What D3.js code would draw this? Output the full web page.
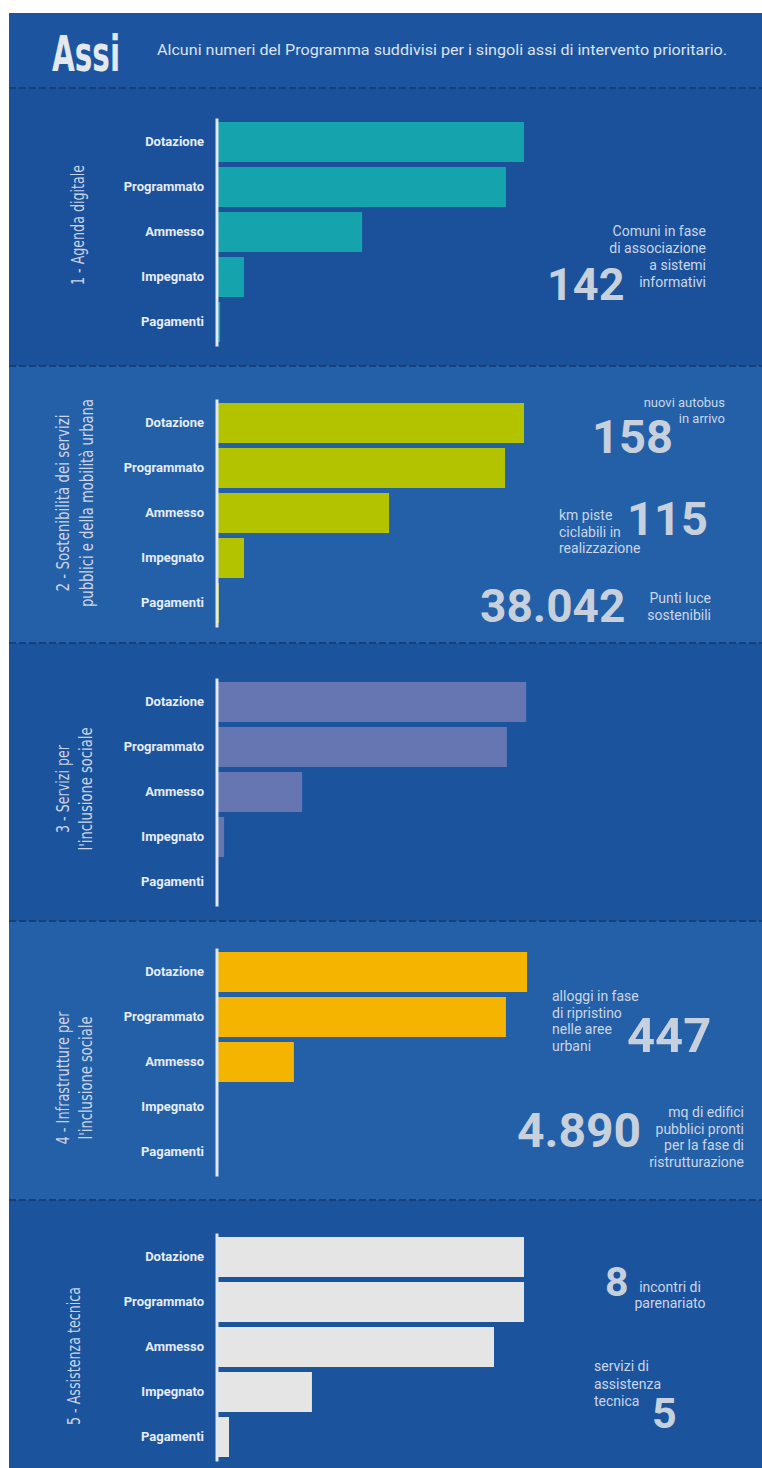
<!DOCTYPE html>
<html>
<head>
<meta charset="utf-8">
<script src="https://cdn.jsdelivr.net/npm/d3@7"></script>
<style>
  html, body { margin: 0; padding: 0; background: #fff; }
  svg { display: block; }
</style>
</head>
<body>
<div id="chart"></div>
<script>
// Assi del Programma: cinque barre orizzontali per asse + numeri chiave a destra

// ── dati ──
const CATEGORIES = ["Dotazione", "Programmato", "Ammesso", "Impegnato", "Pagamenti"];
// valori, in % della dotazione
const VALUES_AX1 = [100, 94.1, 47.1, 8.5, 0.7];
const VALUES_AX2 = [100, 93.8, 55.9, 8.5, 0.3];
const VALUES_AX3 = [100.7, 94.4, 27.5, 2.0, 0];
const VALUES_AX4 = [101, 94.1, 24.8, 0, 0];
const VALUES_AX5 = [100, 100, 90.2, 30.7, 3.6];
const AXIS_VALUES = [VALUES_AX1, VALUES_AX2, VALUES_AX3, VALUES_AX4, VALUES_AX5];

const AXIS_TITLES = [
  ["1 - Agenda digitale"],
  ["2 - Sostenibilità dei servizi", "pubblici e della mobilità urbana"],
  ["3 - Servizi per", "l'inclusione sociale"],
  ["4 - Infrastrutture per", "l'inclusione sociale"],
  ["5 - Assistenza tecnica"],
];
const BAR_COLORS = ["#15a4ae", "#b4c300", "#6676b3", "#f4b400", "#e5e5e5"];

const STAT_NUMBERS = ["142", "158", "115", "38.042", "447", "4.890", "8", "5"];
const STAT_CAPTIONS = [
  ["Comuni in fase", "di associazione", "a sistemi", "informativi"],
  ["nuovi autobus", "in arrivo"],
  ["km piste", "ciclabili in", "realizzazione"],
  ["Punti luce", "sostenibili"],
  ["alloggi in fase", "di ripristino", "nelle aree", "urbani"],
  ["mq di edifici", "pubblici pronti", "per la fase di", "ristrutturazione"],
  ["incontri di", "parenariato"],
  ["servizi di", "assistenza", "tecnica"],
];

const TITLE = "Assi";
const SUBTITLE = "Alcuni numeri del Programma suddivisi per i singoli assi di intervento prioritario.";

// ── layout ──
const W = 762, H = 1468;
const PX0 = 9, PY0 = 13;
const BOUNDS = [PY0, 88, 366, 643, 921, 1200, H];
const BG = ["#1c54a0", "#1b519b", "#2460a7", "#1c539d", "#2460a7", "#1c539d"];
const BAR_TOP = [122, 403, 682, 952, 1237];
const AXIS_X = 216.5, BAR_X0 = 218;
// titoli ruotati: baseline x per riga, centro verticale, lunghezze
const TITLE_POS = [
  { xs: [84], cy: 225, len: [120] },
  { xs: [69, 93], cy: 503, len: [177, 208] },
  { xs: [69, 92], cy: 789, len: [88, 123] },
  { xs: [69, 92], cy: 1078, len: [133, 123] },
  { xs: [80], cy: 1356, len: [138] },
];
// posizione numeri / didascalie
const STAT_POS = [
  { nx: 547, ny: 300, ns: 45, cx: 706, cy: 236, ca: "end", lh: 17 },
  { nx: 592, ny: 453, ns: 47, cx: 725, cy: 407, ca: "end", lh: 16, cs: 13 },
  { nx: 627, ny: 535, ns: 47, cx: 559, cy: 520, ca: "start", lh: 16.5 },
  { nx: 480, ny: 622, ns: 46, cx: 711, cy: 603, ca: "end", lh: 17 },
  { nx: 627, ny: 1052, ns: 49, cx: 552, cy: 1001, ca: "start", lh: 16.5 },
  { nx: 517, ny: 1147, ns: 48, cx: 744, cy: 1117, ca: "end", lh: 16.7 },
  { nx: 605, ny: 1296, ns: 41, cx: 670, cy: 1292, ca: "middle", lh: 16 },
  { nx: 652, ny: 1428, ns: 43, cx: 594, cy: 1371, ca: "start", lh: 17.5 },
];

const COND = "'Liberation Sans Narrow', 'DejaVu Sans Condensed', 'Roboto', sans-serif";
const SANS = "Roboto, 'Noto Sans', sans-serif";

const svg = d3.select("#chart").append("svg")
  .attr("width", W).attr("height", H)
  .attr("viewBox", `0 0 ${W} ${H}`);

// fondi sezioni
svg.selectAll("rect.bg").data(BG).join("rect")
  .attr("class", "bg")
  .attr("x", PX0).attr("y", (d, i) => BOUNDS[i])
  .attr("width", W - PX0).attr("height", (d, i) => BOUNDS[i + 1] - BOUNDS[i])
  .attr("fill", d => d);

// separatori tratteggiati
svg.selectAll("line.sep").data(BOUNDS.slice(1, -1)).join("line")
  .attr("class", "sep")
  .attr("x1", PX0).attr("x2", W).attr("y1", d => d).attr("y2", d => d)
  .attr("stroke", "#163f7b").attr("stroke-width", 2)
  .attr("stroke-dasharray", "7 3");

// testata
svg.append("text")
  .attr("x", 52).attr("y", 71)
  .attr("textLength", 68).attr("lengthAdjust", "spacingAndGlyphs")
  .attr("style", `font:700 50px ${COND};fill:#e3e8ef`)
  .text(TITLE);
svg.append("text")
  .attr("x", 157).attr("y", 55)
  .attr("textLength", 570).attr("lengthAdjust", "spacingAndGlyphs")
  .attr("style", `font:400 14px ${SANS};fill:#dbe3ee`)
  .text(SUBTITLE);

const x = d3.scaleLinear().domain([0, 100]).range([BAR_X0, 524]);

AXIS_VALUES.forEach((vals, s) => {
  const top = BAR_TOP[s];
  const y = d3.scaleBand()
    .domain(CATEGORIES)
    .range([top - 4, top + 224])
    .paddingInner(1 / 9)
    .paddingOuter(4 / 45);
  const g = svg.append("g");

  g.selectAll("rect").data(vals).join("rect")
    .attr("x", x(0))
    .attr("y", (d, i) => y(CATEGORIES[i]))
    .attr("width", d => Math.max(0, x(d) - x(0)))
    .attr("height", y.bandwidth())
    .attr("fill", BAR_COLORS[s]);

  const ax = g.append("g")
    .attr("transform", `translate(${AXIS_X},0)`)
    .call(d3.axisLeft(y).tickSize(0).tickSizeOuter(0).tickPadding(12.5));
  ax.select(".domain").attr("stroke", "#dfe8f3").attr("stroke-width", 3);
  ax.selectAll("text")
    .attr("style", `font:700 13px ${SANS};fill:#e6ecf5`);

  // titolo asse ruotato
  const tp = TITLE_POS[s];
  AXIS_TITLES[s].forEach((line, k) => {
    svg.append("text")
      .attr("transform", `translate(${tp.xs[k]},${tp.cy}) rotate(-90)`)
      .attr("text-anchor", "middle")
      .attr("textLength", tp.len[k]).attr("lengthAdjust", "spacingAndGlyphs")
      .attr("style", `font:400 17px ${COND};fill:#c9d4e6`)
      .text(line);
  });
});

// numeri chiave
STAT_NUMBERS.forEach((num, i) => {
  const p = STAT_POS[i];
  svg.append("text")
    .attr("x", p.nx).attr("y", p.ny)
    .attr("style", `font:700 ${p.ns}px ${SANS};fill:#c7d0dd`)
    .text(num);
  const cap = svg.append("text")
    .attr("text-anchor", p.ca)
    .attr("style", `font:400 ${p.cs || 14}px ${SANS};fill:#cad6e8`);
  STAT_CAPTIONS[i].forEach((line, k) => {
    cap.append("tspan").attr("x", p.cx).attr("y", p.cy + k * p.lh).text(line);
  });
});
</script>
</body>
</html>
